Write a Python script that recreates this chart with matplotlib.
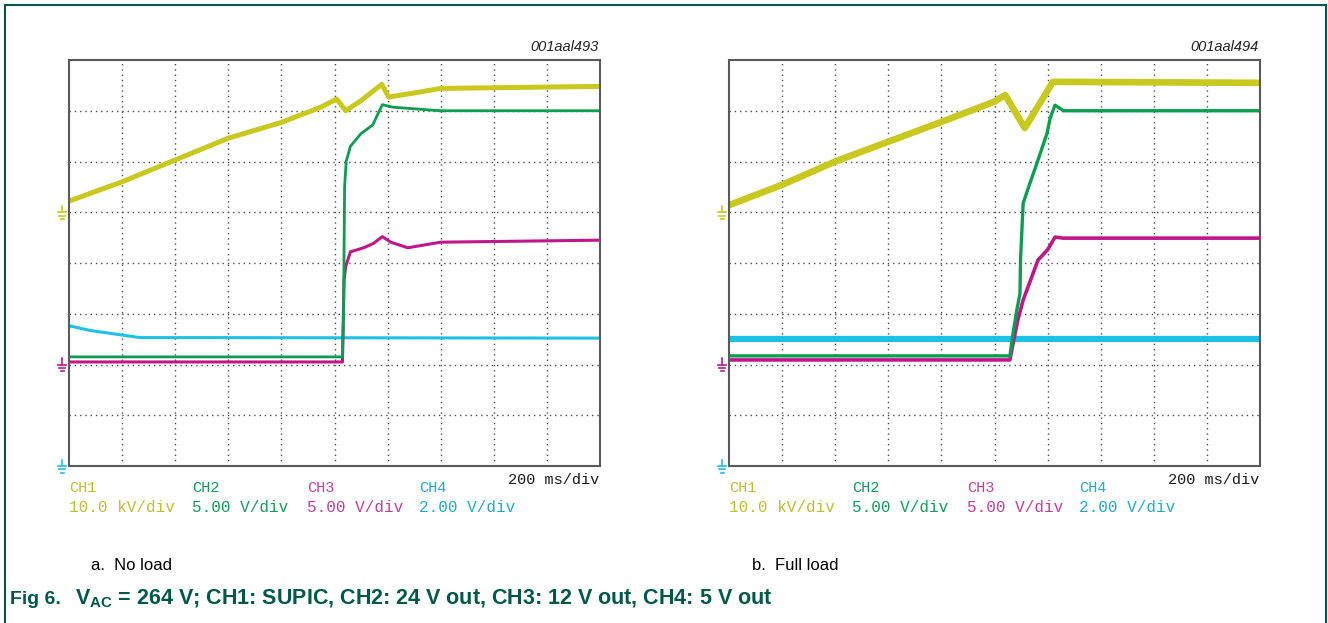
import numpy as np
import matplotlib
matplotlib.use("Agg")
import matplotlib.pyplot as plt
from matplotlib.lines import Line2D

plt.rcParams['font.family'] = ['Liberation Sans', 'DejaVu Sans']
plt.rcParams['mathtext.fontset'] = 'custom'
plt.rcParams['mathtext.bf'] = 'Liberation Sans:bold'
plt.rcParams['mathtext.rm'] = 'Liberation Sans'

# trace colours
c_ch1 = '#c8c81e'
c_ch2 = '#0a9e4e'
c_ch3 = '#c0168c'
c_ch4 = '#1ec0e6'
txt_cols = ['#bebe32', '#149a5a', '#c83c96', '#1eaad0']
dark_green = '#00584a'

# ---- a. no load (x in divisions, y in divisions from bottom) ----
t_ch1_a = [0, 1, 2, 3, 4, 4.74, 5.04, 5.21, 5.5, 5.89, 6.02, 6.5, 7.0, 10]
v_ch1_a = [5.22, 5.6, 6.03, 6.46, 6.77, 7.07, 7.23, 7.0, 7.2, 7.52, 7.27, 7.35, 7.44, 7.48]

t_ch2_a = [0, 5.15, 5.17, 5.19, 5.22, 5.3, 5.5, 5.72, 5.9, 6.1, 7.0, 10]
v_ch2_a = [2.15, 2.15, 3.0, 5.5, 6.0, 6.3, 6.55, 6.72, 7.12, 7.07, 7.0, 7.0]

t_ch3_a = [0, 5.15, 5.18, 5.21, 5.3, 5.55, 5.74, 5.9, 6.06, 6.38, 7.0, 10]
v_ch3_a = [2.05, 2.05, 3.66, 3.93, 4.22, 4.3, 4.39, 4.52, 4.41, 4.3, 4.41, 4.45]

t_ch4_a = [0, 0.02, 0.4, 1.0, 1.34, 2.5, 10]
v_ch4_a = [2.72, 2.76, 2.67, 2.58, 2.53, 2.53, 2.52]

# ---- b. full load ----
t_ch1_b = [0, 1, 2, 3, 4, 5, 5.2, 5.57, 6.1, 10]
v_ch1_b = [5.14, 5.54, 6.0, 6.39, 6.78, 7.18, 7.31, 6.66, 7.57, 7.55]

t_ch2_b = [0, 5.29, 5.35, 5.42, 5.48, 5.49, 5.54, 5.67, 5.82, 5.99, 6.05, 6.14, 6.3, 10]
v_ch2_b = [2.17, 2.17, 2.62, 3.07, 3.4, 4.06, 5.18, 5.58, 6.03, 6.56, 6.86, 7.11, 7.0, 7.0]

t_ch3_b = [0, 5.29, 5.35, 5.44, 5.54, 5.82, 6.0, 6.14, 6.3, 10]
v_ch3_b = [2.09, 2.09, 2.42, 2.88, 3.27, 4.06, 4.26, 4.51, 4.49, 4.49]

t_ch4_b = [0, 10]
v_ch4_b = [2.5, 2.5]

ch_names = ['CH1', 'CH2', 'CH3', 'CH4']
ch_scales = ['10.0 kV/div', '5.00 V/div', '5.00 V/div', '2.00 V/div']
timebase = '200 ms/div'
ids = ['001aal493', '001aal494']
sub_titles = ['a.  No load', 'b.  Full load']

# ground reference levels (divisions) for CH1, CH3, CH4
gnd_levels = [5.0, 2.0, 0.0]
gnd_cols = [c_ch1, c_ch3, c_ch4]

W, H = 1328, 623
fig = plt.figure(figsize=(W / 100, H / 100), dpi=100)
mono = ['Liberation Mono', 'DejaVu Sans Mono']


def gnd_marker(ax, y, col):
    # little ground symbol just left of the screen
    x = -0.13
    ax.plot([x, x], [y + 0.12, y], color=col, lw=1.2, clip_on=False)
    for k, hw in enumerate([0.08, 0.055, 0.03]):
        yy = y - 0.065 * k
        ax.plot([x - hw, x + hw], [yy, yy], color=col, lw=1.2, clip_on=False)


def scope(x0, traces, lws):
    ax = fig.add_axes([x0 / W, 1 - 466 / H, 531 / W, 406 / H])
    ax.set_xlim(0, 10)
    ax.set_ylim(0, 8)
    ax.set_xticks(np.arange(1, 10))
    ax.set_yticks(np.arange(1, 8))
    ax.tick_params(length=0, labelbottom=False, labelleft=False)
    ax.grid(True, color='#4a4a4a', lw=1.0, ls=(0, (1, 2.8)))
    for s in ax.spines.values():
        s.set_color('#5a5a5a')
        s.set_linewidth(1.5)
    cols = [c_ch4, c_ch3, c_ch2, c_ch1]
    for (t, v), c, lw in zip(traces, cols, lws):
        ax.plot(t, v, color=c, lw=lw, solid_joinstyle='round')
    for y, c in zip(gnd_levels, gnd_cols):
        gnd_marker(ax, y, c)
    return ax


ax_a = scope(69, [(t_ch4_a, v_ch4_a), (t_ch3_a, v_ch3_a), (t_ch2_a, v_ch2_a), (t_ch1_a, v_ch1_a)],
             [2.2, 2.2, 2.0, 3.6])
ax_b = scope(729, [(t_ch4_b, v_ch4_b), (t_ch3_b, v_ch3_b), (t_ch2_b, v_ch2_b), (t_ch1_b, v_ch1_b)],
             [4.5, 2.6, 2.4, 4.8])

# labels under each screen
for i, x0 in enumerate([69, 729]):
    fig.text((x0 + 530) / W, 1 - 47 / H, ids[i], ha='right', va='center',
             fontsize=10.5, style='italic', color='#222222')
    fig.text((x0 + 530) / W, 1 - 480 / H, timebase, ha='right', va='center',
             fontsize=11, family=mono, color='#1a1a1a')
    for k, dx in enumerate([0, 123, 238, 350]):
        fig.text((x0 + dx) / W, 1 - 488 / H, ch_names[k], ha='left', va='center',
                 fontsize=11, family=mono, color=txt_cols[k])
        fig.text((x0 + dx) / W, 1 - 507 / H, ch_scales[k], ha='left', va='center',
                 fontsize=11.5, family=mono, color=txt_cols[k])

fig.text(91 / W, 1 - 565 / H, sub_titles[0], ha='left', va='center', fontsize=12, color='black')
fig.text(752 / W, 1 - 565 / H, sub_titles[1], ha='left', va='center', fontsize=12, color='black')

fig.text(10 / W, 1 - 599 / H, 'Fig 6.', ha='left', va='center', fontsize=14,
         weight='bold', color=dark_green)
fig.text(75 / W, 1 - 599 / H,
         r'$\mathbf{V_{AC}}$ = 264 V; CH1: SUPIC, CH2: 24 V out, CH3: 12 V out, CH4: 5 V out',
         ha='left', va='center', fontsize=15.5, weight='bold', color=dark_green)

# outer figure border (open at the bottom)
for xs, ys in [([5, 5], [H, 5]), ([5, 1326], [5, 5]), ([1326, 1326], [5, H])]:
    fig.add_artist(Line2D([x / W for x in xs], [1 - y / H for y in ys],
                          transform=fig.transFigure, color=dark_green, lw=1.5))

fig.savefig('out.png', dpi=100)
